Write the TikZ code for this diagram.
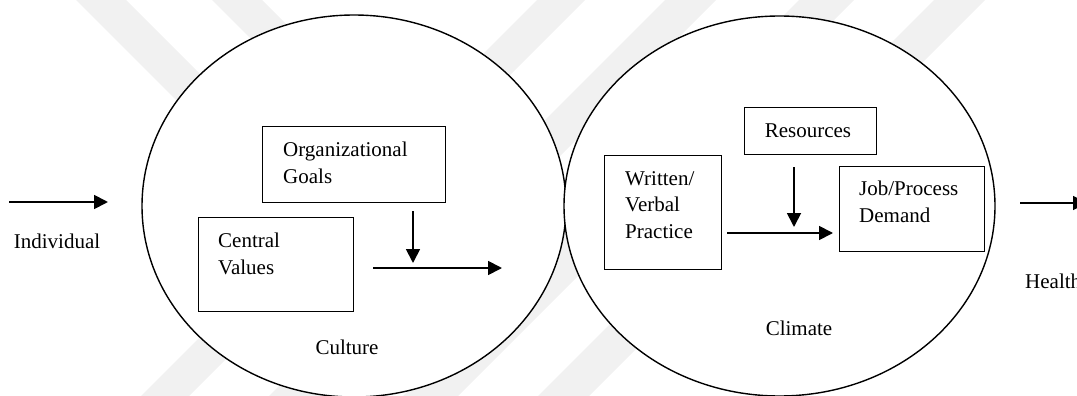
\documentclass[tikz,border=0pt]{standalone}
\usepackage{fontspec}
\setmainfont{Liberation Serif}
\usetikzlibrary{arrows.meta,shapes.geometric}

\definecolor{mark}{HTML}{F1F1F1}

\tikzset{
  oval/.style={draw=black, line width=1.4pt, fill=white},
  factor/.style={draw=black, line width=1pt, fill=white, inner sep=0pt},
  label/.style={inner sep=0pt, font=\fontsize{21}{26.5}\selectfont},
  flow/.style={line width=1.8pt, -{Triangle[length=14pt,width=14pt]}},
  band/.style={fill=mark, draw=none}
}

\begin{document}
\begin{tikzpicture}[x=1pt, y=-1pt]
  \useasboundingbox (0,0) rectangle (1077,396);
  \clip (0,0) rectangle (1077,396);

  % faint background stripes
  \fill[band] (76,0) -- (126,0) -- (246,120) -- (196,120) -- cycle;
  \fill[band] (212,0) -- (262,0) -- (382,120) -- (332,120) -- cycle;
  \foreach \a/\b in {537/585, 665/716, 799/854, 934/985}
    \fill[band] (\a,0) -- (\b,0) -- (\b-396,396) -- (\a-396,396) -- cycle;

  % the two domains
  \node[oval, ellipse, minimum width=424pt, minimum height=382pt, inner sep=0pt]
    (culture) at (354,206) {};
  \node[oval, ellipse, minimum width=431pt, minimum height=380pt, inner sep=0pt]
    (climate) at (779.5,206) {};

  % culture factors
  \node[factor, minimum width=183pt, minimum height=76pt] (goals) at (353.5,164) {};
  \node[factor, minimum width=155pt, minimum height=94pt] (values) at (275.5,264) {};
  \node[label, anchor=west, align=left] (goalsT) at (283,163) {Organizational\\Goals};
  \node[label, anchor=west, align=left] (valuesT) at (218,254) {Central\\Values};
  \node[label] (cultureT) at (347,347) {Culture};

  % climate factors
  \node[factor, minimum width=132pt, minimum height=47pt] (res) at (810,130.5) {};
  \node[factor, minimum width=117pt, minimum height=114pt] (written) at (662.5,212) {};
  \node[factor, minimum width=145pt, minimum height=85pt] (job) at (911.5,208.5) {};
  \node[label] (resT) at (808,131) {Resources};
  \node[label, anchor=west, align=left] (writtenT) at (625,205) {Written/\\Verbal\\Practice};
  \node[label, anchor=west, align=left] (jobT) at (859,202) {Job/Process\\Demand};
  \node[label] (climateT) at (799,328) {Climate};

  % outer labels
  \node[label] (indiv) at (57,241) {Individual};
  \node[label, anchor=west] (health) at (1025,281) {Health};

  % connector ends
  \coordinate (inA) at (9,202);
  \coordinate (inB) at (108,202);
  \coordinate (cuA) at (373,268);
  \coordinate (cuB) at (502,268);
  \coordinate (cdA) at (413,211);
  \coordinate (cdB) at (413,263);
  \coordinate (clA) at (727,233);
  \coordinate (clB) at (833,233);
  \coordinate (rdA) at (794,167);
  \coordinate (rdB) at (794,227);
  \coordinate (outA) at (1020,203);
  \coordinate (outB) at (1087,203);

  \draw[flow] (inA) -- (inB);
  \draw[flow] (cdA) -- (cdB);
  \draw[flow] (cuA) -- (cuB);
  \draw[flow] (rdA) -- (rdB);
  \draw[flow] (clA) -- (clB);
  \draw[flow] (outA) -- (outB);
\end{tikzpicture}
\end{document}
